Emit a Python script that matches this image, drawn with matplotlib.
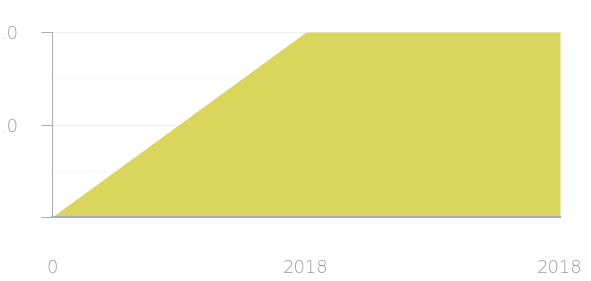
import matplotlib
matplotlib.use("Agg")
import matplotlib.pyplot as plt
from matplotlib.ticker import FixedLocator

x_pos = [0, 1, 2]
x_labels = ["0", "2018", "2018"]
values = [0.0, 2.0, 2.0]
y_ticks = [0.0, 1.0, 2.0]
y_labels = ["", ".0", ".0"]
y_minor = [0.5, 1.5]

fig = plt.figure(figsize=(5.91, 2.81), dpi=100)
ax = fig.add_axes([52/591, 1-217/281, (560-52)/591, (217-32)/281])
ax.fill_between(x_pos, values, 0, color="#dad55c", linewidth=0)
ax.set_xlim(0, 2)
ax.set_ylim(0, 2)
ax.set_xticks(x_pos)
ax.set_xticklabels(x_labels)
ax.set_yticks(y_ticks)
ax.set_yticklabels(y_labels)
ax.yaxis.set_minor_locator(FixedLocator(y_minor))
for s in ["top", "right"]:
    ax.spines[s].set_visible(False)
ax.spines["left"].set_color("#b0b0b0")
ax.spines["bottom"].set_color("#a8acb4")
ax.spines["bottom"].set_linewidth(1.5)
ax.tick_params(axis="x", length=0, pad=30, labelsize=13, labelcolor="#999999")
ax.tick_params(axis="y", which="major", length=8, color="#b0b0b0", pad=16, labelsize=13, labelcolor="#999999")
ax.tick_params(axis="y", which="minor", length=0)
ax.grid(axis="y", which="major", color="#f0f0f0", linewidth=1)
ax.grid(axis="y", which="minor", color="#f7f7f7", linewidth=0.8)
ax.set_axisbelow(True)
for lab in ax.get_xticklabels() + ax.get_yticklabels():
    lab.set_fontweight("light")
fig.savefig("out.png", dpi=100)
